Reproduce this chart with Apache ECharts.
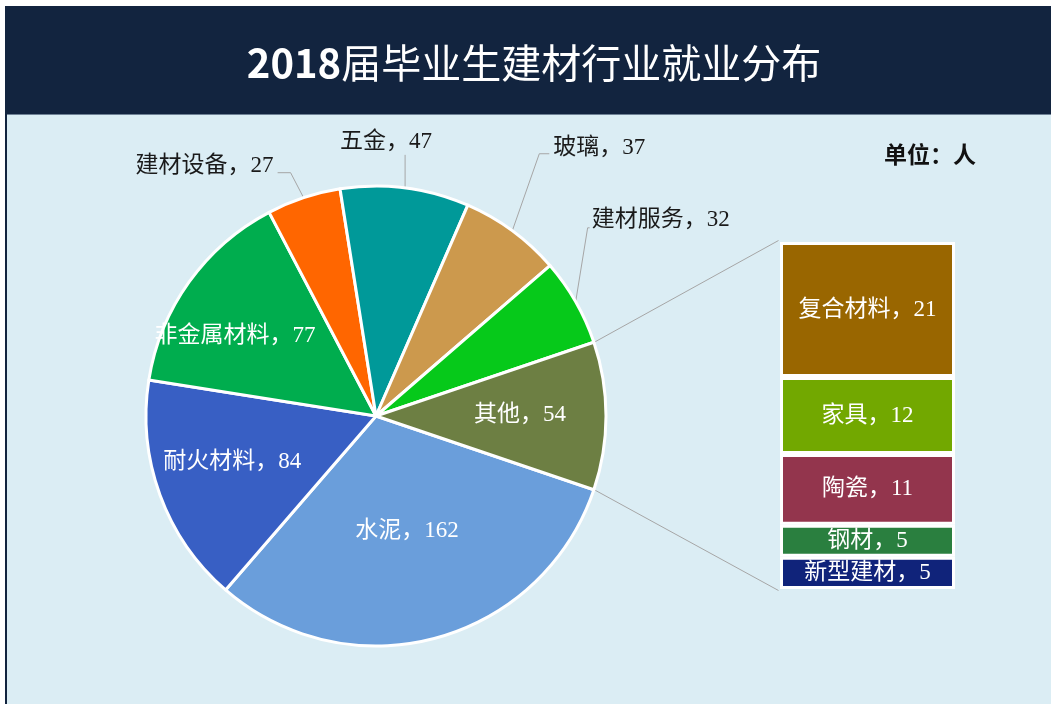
<!DOCTYPE html>
<html>
<head>
<meta charset="utf-8">
<title>2018届毕业生建材行业就业分布</title>
<script src="https://cdn.jsdelivr.net/npm/echarts@6/dist/echarts.min.js"></script>
<style>
  html, body { margin: 0; padding: 0; background: #fff; }
  #chart { width: 1051px; height: 704px; }
</style>
</head>
<body>
<div id="chart"></div>
<script>
// main pie, clockwise from the "其他" slice on the right
const pieNames = ["水泥", "耐火材料", "非金属材料", "建材设备", "五金", "玻璃", "建材服务", "其他"];
const pieValues = [162, 84, 77, 27, 47, 37, 32, 54];
const pieColors = ["#6a9edb", "#385fc4", "#00ad4e", "#ff6600", "#009999", "#cc994d", "#06c91a", "#6d7f43"];

// breakdown of "其他", top to bottom
const subNames = ["复合材料", "家具", "陶瓷", "钢材", "新型建材"];
const subValues = [21, 12, 11, 5, 5];
const subColors = ["#996600", "#72a800", "#93354d", "#2a7f3f", "#10237a"];

const labelFont = "'Liberation Serif', 'Noto Sans CJK SC', serif";
const cx = 376, cy = 416, R = 230;
const barBox = { left: 780, top: 242, width: 175, height: 347 };

const total = pieValues.reduce((a, b) => a + b, 0);
const otherValue = pieValues[pieValues.length - 1];
const startAngle = -otherValue / total * 180;

function midAngle(i) {
  let before = 0;
  for (let k = 0; k < i; k++) before += pieValues[k];
  return startAngle - (before + pieValues[i] / 2) / total * 360;
}
function arcPoint(deg, r) {
  const a = deg * Math.PI / 180;
  return [cx + r * Math.cos(a), cy - r * Math.sin(a)];
}

// nudges for labels inside slices
const insideShift = { "水泥": [0, 1], "耐火材料": [-33, 5], "非金属材料": [-45, -11], "其他": [26, -1] };
// leader line shapes for outside labels, relative to the slice's arc point
const outsideLeader = {
  "建材设备": { elbow: [-13, -25], end: [-26, -25], text: [-4, -7], align: "right" },
  "五金": { elbow: [0, -33], end: [0, -33], text: [-19, -13], align: "center" },
  "玻璃": { elbow: [27, -77], end: [37, -77], text: [4, -6], align: "left" },
  "建材服务": { elbow: [12, -74], end: [14, -74], text: [2, -8], align: "left" }
};

const chart = echarts.init(document.getElementById("chart"));

const pieData = pieNames.map((n, i) => {
  const inside = !!insideShift[n];
  return {
    name: n,
    value: pieValues[i],
    itemStyle: { color: pieColors[i] },
    label: { position: inside ? "inside" : "outside", color: inside ? "#ffffff" : "#1a1a1a" },
    labelLine: { show: !inside }
  };
});

const barSeries = subNames.map((n, i) => ({
  type: "bar",
  name: n,
  stack: "other",
  data: [subValues[i]],
  barWidth: "100%",
  itemStyle: { color: subColors[i], borderColor: "#ffffff", borderWidth: 3 },
  label: {
    show: true,
    position: "inside",
    formatter: "{a}，{c}",
    color: "#ffffff",
    fontSize: 23,
    fontFamily: labelFont
  }
}));

const upper = arcPoint(-startAngle, R + 1);
const lower = arcPoint(startAngle, R + 1);

const option = {
  animation: false,
  graphic: [
    { type: "rect", z: 0, shape: { x: 5, y: 6, width: 1046, height: 698 }, style: { fill: "#dbedf4" } },
    { type: "rect", z: 0, shape: { x: 5, y: 6, width: 2, height: 698 }, style: { fill: "#12243f" } },
    { type: "rect", z: 0, shape: { x: 5, y: 6, width: 1046, height: 108 }, style: { fill: "#12243f" } },
    { type: "rect", z: 0, shape: { x: 7, y: 114, width: 1044, height: 1 }, style: { fill: "#6f8296" } },
    {
      type: "text", z: 1, x: 534, y: 63,
      style: {
        text: "{d|2018}{c|届毕业生建材行业就业分布}",
        align: "center",
        verticalAlign: "middle",
        rich: {
          d: { fill: "#ffffff", fontSize: 40, fontWeight: "bold", fontFamily: "'Noto Sans CJK SC', sans-serif" },
          c: { fill: "#ffffff", fontSize: 40, fontFamily: "'Noto Sans CJK SC', sans-serif" }
        }
      }
    },
    {
      type: "text", z: 1, x: 884, y: 157,
      style: { text: "单位：人", fill: "#111111", font: "bold 23px " + labelFont, verticalAlign: "middle" }
    },
    {
      type: "line", z: 1,
      shape: { x1: upper[0], y1: upper[1], x2: barBox.left - 1.5, y2: barBox.top - 1.5 },
      style: { stroke: "#a6a6a6", lineWidth: 1 }
    },
    {
      type: "line", z: 1,
      shape: { x1: lower[0], y1: lower[1], x2: barBox.left - 1.5, y2: barBox.top + barBox.height + 1.5 },
      style: { stroke: "#a6a6a6", lineWidth: 1 }
    }
  ],
  grid: barBox,
  xAxis: { type: "category", data: ["其他"], show: false },
  yAxis: { type: "value", min: 0, max: otherValue, inverse: true, show: false },
  series: [
    {
      type: "pie",
      center: [cx, cy],
      radius: R,
      startAngle: startAngle,
      clockwise: true,
      avoidLabelOverlap: false,
      itemStyle: { borderColor: "#ffffff", borderWidth: 3 },
      label: { formatter: "{b}，{c}", fontSize: 23, fontFamily: labelFont },
      labelLine: { lineStyle: { color: "#a6a6a6", width: 1 } },
      labelLayout: function (p) {
        const name = pieNames[p.dataIndex];
        if (insideShift[name]) return { dx: insideShift[name][0], dy: insideShift[name][1] };
        const o = outsideLeader[name];
        const s = arcPoint(midAngle(p.dataIndex), R);
        const e = [s[0] + o.elbow[0], s[1] + o.elbow[1]];
        const t = [s[0] + o.end[0], s[1] + o.end[1]];
        return {
          x: t[0] + o.text[0],
          y: t[1] + o.text[1],
          align: o.align,
          verticalAlign: "middle",
          labelLinePoints: [s, e, t]
        };
      },
      data: pieData
    }
  ].concat(barSeries)
};

chart.setOption(option);
</script>
</body>
</html>
